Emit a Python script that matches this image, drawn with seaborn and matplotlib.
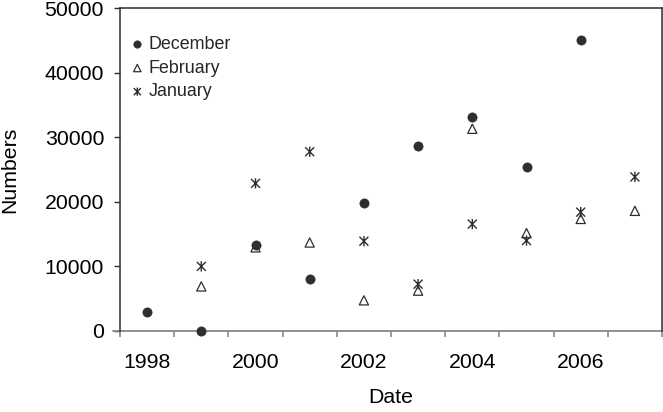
import matplotlib
matplotlib.use("Agg")
import matplotlib.pyplot as plt
import seaborn as sns
import pandas as pd
import numpy as np
from matplotlib.path import Path

years = [1998, 1999, 2000, 2001, 2002, 2003, 2004, 2005, 2006, 2007]
december = [2900, 0, 13250, 8100, 19850, 28600, 33050, 25350, 45100, None]
february = [None, 6900, 12950, 13700, 4750, 6250, 31300, 15150, 17350, 18600]
january = [None, 10000, 22850, 27750, 13900, 7250, 16550, 14000, 18400, 23850]
xtick_labels = ["1998", "2000", "2002", "2004", "2006"]
yticks = [0, 10000, 20000, 30000, 40000, 50000]

sns.set_theme(style="white")
plt.rcParams['font.family'] = ['Liberation Sans', 'DejaVu Sans']

fig = plt.figure(figsize=(6.63, 4.12), dpi=100)
ax = fig.add_axes([120/663, 1-331/412, 542/663, 323/412])

dark = "#2e2e2e"
star = Path([(-1, -1), (1, 1), (-1, 1), (1, -1), (0, -1.15), (0, 1.15)],
            [Path.MOVETO, Path.LINETO, Path.MOVETO, Path.LINETO, Path.MOVETO, Path.LINETO])

df = pd.DataFrame({"Date": years, "December": december,
                   "February": february, "January": january})

sns.scatterplot(data=df, x="Date", y="December", ax=ax, marker="o", s=44,
                color=dark, edgecolor=dark, linewidth=0.5, label="December", clip_on=False, zorder=3)
sns.scatterplot(data=df, x="Date", y="February", ax=ax, marker="^", s=44,
                facecolor="none", edgecolor=dark, linewidth=0.9, label="February", clip_on=False, zorder=3)
sns.scatterplot(data=df, x="Date", y="January", ax=ax, marker=star, s=55,
                facecolor="none", edgecolor=dark, linewidth=1.0, label="January", clip_on=False, zorder=3)

ax.set_xlim(1997.5, 2007.5)
ax.set_ylim(0, 50000)

# x axis: tick marks at year boundaries, labels at even years
ax.set_xticks(np.arange(1997.5, 2008.0, 1.0))
ax.set_xticklabels([])
ax.set_xticks([int(t) for t in xtick_labels], minor=True)
ax.set_xticklabels(xtick_labels, minor=True)
ax.tick_params(axis="x", which="major", direction="out", length=4.5, width=1.2, color="#888888", bottom=True)
ax.tick_params(axis="x", which="minor", length=0, pad=16, labelsize=15.3, labelcolor="black")

ax.set_yticks(yticks)
ax.set_yticklabels([str(v) for v in yticks])
ax.tick_params(axis="y", direction="out", length=4.5, width=1.0, color=dark, left=True, pad=7,
               labelsize=15.3, labelcolor="black")

for side in ["left", "top", "right"]:
    ax.spines[side].set_color(dark)
    ax.spines[side].set_linewidth(1.1)
ax.spines["bottom"].set_color("#888888")
ax.spines["bottom"].set_linewidth(1.3)
ax.spines["bottom"].set_zorder(1)

# gray axis line continues slightly left of the plot frame
ax.plot([-7/542, 0], [0, 0], transform=ax.transAxes, color="#888888", lw=1.3,
        clip_on=False, zorder=1)

ax.set_xlabel("Date", fontsize=15.3, labelpad=11.5, color="black")
ax.set_ylabel("Numbers", fontsize=15.3, labelpad=18, color="black")

leg = ax.legend(loc="upper left", bbox_to_anchor=(0.022, 0.913), frameon=False,
                fontsize=12.9, handlelength=0.6, handletextpad=0.35,
                labelspacing=0.37, borderpad=0, borderaxespad=0, markerscale=0.8)

fig.savefig("out.png", dpi=100)
